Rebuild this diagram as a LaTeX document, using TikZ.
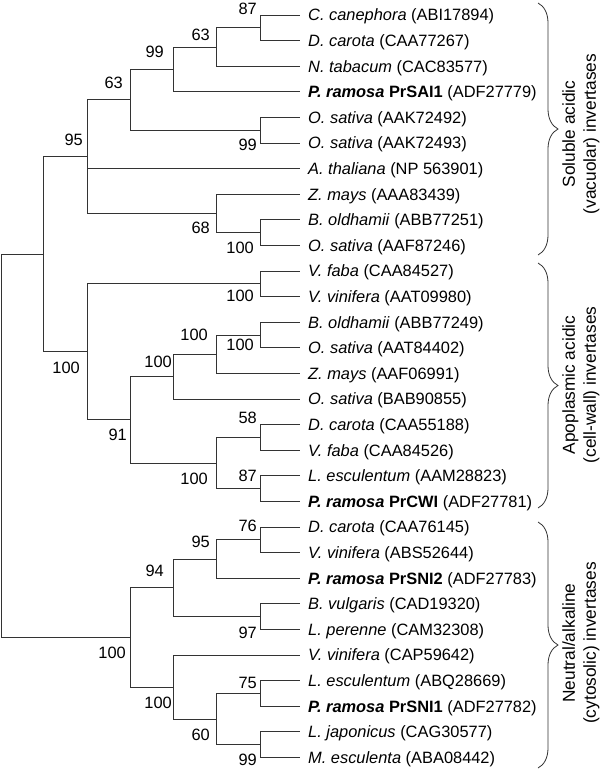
\documentclass[tikz,border=0pt]{standalone}
\usepackage{fontspec}
\setmainfont{Liberation Sans}
\usetikzlibrary{decorations.pathreplacing}
\begin{document}
\begin{tikzpicture}[x=1pt,y=-1pt,
  branch/.style={draw=black!80, line width=0.9pt},
  leaf/.style={anchor=west, xshift=8pt, inner sep=0pt, text height=11.7pt, text depth=0pt, font=\fontsize{16.4}{19}\selectfont},
  boot/.style={anchor=east, inner sep=0pt, text height=11.7pt, text depth=0pt, font=\fontsize{16.4}{19}\selectfont},
  cladebrace/.style={decorate, decoration={brace, amplitude=20pt}, draw=black!80, line width=0.8pt},
  grouplabel/.style={rotate=90, align=center, inner sep=0pt, font=\fontsize{17.3}{21}\selectfont}]
\useasboundingbox (0,0) rectangle (600,771);
% leaf ends
\foreach \i/\y in {1/15,2/40.6,3/66.2,4/91.8,5/117.4,6/143,7/168.6,8/194.2,9/219.8,10/245.4,
  11/271,12/296.6,13/322.2,14/347.8,15/373.4,16/399,17/424.6,18/450.2,19/475.8,20/501.4,
  21/527,22/552.6,23/578.2,24/603.8,25/629.4,26/655,27/680.6,28/706.2,29/731.8,30/757.4}
  {\coordinate (e\i) at (300,\y);}
% leaf labels
\node[leaf] (t1) at (e1) {\textit{C. canephora} (ABI17894)};
\node[leaf] (t2) at (e2) {\textit{D. carota} (CAA77267)};
\node[leaf] (t3) at (e3) {\textit{N. tabacum} (CAC83577)};
\node[leaf] (t4) at (e4) {\textbf{\textit{P. ramosa} PrSAI1} (ADF27779)};
\node[leaf] (t5) at (e5) {\textit{O. sativa} (AAK72492)};
\node[leaf] (t6) at (e6) {\textit{O. sativa} (AAK72493)};
\node[leaf] (t7) at (e7) {\textit{A. thaliana} (NP 563901)};
\node[leaf] (t8) at (e8) {\textit{Z. mays} (AAA83439)};
\node[leaf] (t9) at (e9) {\textit{B. oldhamii} (ABB77251)};
\node[leaf] (t10) at (e10) {\textit{O. sativa} (AAF87246)};
\node[leaf] (t11) at (e11) {\textit{V. faba} (CAA84527)};
\node[leaf] (t12) at (e12) {\textit{V. vinifera} (AAT09980)};
\node[leaf] (t13) at (e13) {\textit{B. oldhamii} (ABB77249)};
\node[leaf] (t14) at (e14) {\textit{O. sativa} (AAT84402)};
\node[leaf] (t15) at (e15) {\textit{Z. mays} (AAF06991)};
\node[leaf] (t16) at (e16) {\textit{O. sativa} (BAB90855)};
\node[leaf] (t17) at (e17) {\textit{D. carota} (CAA55188)};
\node[leaf] (t18) at (e18) {\textit{V. faba} (CAA84526)};
\node[leaf] (t19) at (e19) {\textit{L. esculentum} (AAM28823)};
\node[leaf] (t20) at (e20) {\textbf{\textit{P. ramosa} PrCWI} (ADF27781)};
\node[leaf] (t21) at (e21) {\textit{D. carota} (CAA76145)};
\node[leaf] (t22) at (e22) {\textit{V. vinifera} (ABS52644)};
\node[leaf] (t23) at (e23) {\textbf{\textit{P. ramosa} PrSNI2} (ADF27783)};
\node[leaf] (t24) at (e24) {\textit{B. vulgaris} (CAD19320)};
\node[leaf] (t25) at (e25) {\textit{L. perenne} (CAM32308)};
\node[leaf] (t26) at (e26) {\textit{V. vinifera} (CAP59642)};
\node[leaf] (t27) at (e27) {\textit{L. esculentum} (ABQ28669)};
\node[leaf] (t28) at (e28) {\textbf{\textit{P. ramosa} PrSNI1} (ADF27782)};
\node[leaf] (t29) at (e29) {\textit{L. japonicus} (CAG30577)};
\node[leaf] (t30) at (e30) {\textit{M. esculenta} (ABA08442)};
% internal nodes
\coordinate (a87) at (260,27.8);
\coordinate (a63b) at (216.7,47);
\coordinate (a99) at (173.3,69.4);
\coordinate (a99b) at (260,130.2);
\coordinate (a63) at (130.3,99.8);
\coordinate (a100a) at (260,232.6);
\coordinate (a68) at (216.7,213.4);
\coordinate (a95) at (87,156.6);
\coordinate (b100b) at (260,283.8);
\coordinate (b100c) at (260,335);
\coordinate (b100d) at (216.7,354.2);
\coordinate (b100e) at (173.3,376.6);
\coordinate (b58) at (260,437.4);
\coordinate (b87) at (260,488.6);
\coordinate (b100f) at (216.7,463);
\coordinate (b91) at (130.3,419.8);
\coordinate (b100g) at (87,351.8);
\coordinate (acid) at (43.3,254.2);
\coordinate (c76) at (260,539.8);
\coordinate (c95) at (216.7,559);
\coordinate (c97) at (260,616.6);
\coordinate (c94) at (173.3,587.8);
\coordinate (c75) at (260,693.4);
\coordinate (c99) at (260,744.6);
\coordinate (c60) at (216.7,719);
\coordinate (c100h) at (173.3,687);
\coordinate (c100i) at (130.3,637.4);
\coordinate (root) at (1,445.8);
% branches
\foreach \p/\c in {a87/e1,a87/e2,a63b/a87,a63b/e3,a99/a63b,a99/e4,a99b/e5,a99b/e6,
  a63/a99,a63/a99b,a100a/e9,a100a/e10,a68/e8,a68/a100a,a95/a63,a95/e7,a95/a68,
  b100b/e11,b100b/e12,b100c/e13,b100c/e14,b100d/b100c,b100d/e15,b100e/b100d,b100e/e16,
  b58/e17,b58/e18,b87/e19,b87/e20,b100f/b58,b100f/b87,b91/b100e,b91/b100f,
  b100g/b100b,b100g/b91,acid/a95,acid/b100g,
  c76/e21,c76/e22,c95/c76,c95/e23,c97/e24,c97/e25,c94/c95,c94/c97,
  c75/e27,c75/e28,c99/e29,c99/e30,c60/c75,c60/c99,c100h/e26,c100h/c60,
  c100i/c94,c100i/c100h,root/acid,root/c100i}
  {\draw[branch] (\p) |- (\c);}
% bootstrap values
\node[boot] (s1) at (257,9) {87};
\node[boot] (s2) at (210,35) {63};
\node[boot] (s3) at (164,52) {99};
\node[boot] (s4) at (123,83) {63};
\node[boot] (s5) at (83,139.5) {95};
\node[boot] (s6) at (257,145) {99};
\node[boot] (s7) at (210,228) {68};
\node[boot] (s8) at (254,247.5) {100};
\node[boot] (s9) at (254,296) {100};
\node[boot] (s10) at (208,335) {100};
\node[boot] (s11) at (254,345) {100};
\node[boot] (s12) at (172,361.5) {100};
\node[boot] (s13) at (80,367.5) {100};
\node[boot] (s14) at (127,435) {91};
\node[boot] (s15) at (257,417.5) {58};
\node[boot] (s16) at (208,478.5) {100};
\node[boot] (s17) at (257,476) {87};
\node[boot] (s18) at (257,525.5) {76};
\node[boot] (s19) at (210,542) {95};
\node[boot] (s20) at (164,571) {94};
\node[boot] (s21) at (257,632.5) {97};
\node[boot] (s22) at (126,653) {100};
\node[boot] (s23) at (257,682.5) {75};
\node[boot] (s24) at (172,703) {100};
\node[boot] (s25) at (210,735) {60};
\node[boot] (s26) at (257,760) {99};
% clade braces
\coordinate (g1a) at (538,3);   \coordinate (g1b) at (538,255);
\coordinate (g2a) at (538,263); \coordinate (g2b) at (538,508);
\coordinate (g3a) at (538,522); \coordinate (g3b) at (538,768);
\draw[cladebrace] (g1a) -- (g1b);
\draw[cladebrace] (g2a) -- (g2b);
\draw[cladebrace] (g3a) -- (g3b);
\node[grouplabel] (L1) at (581,134) {Soluble acidic\\(vacuolar) invertases};
\node[grouplabel] (L2) at (581,385) {Apoplasmic acidic\\(cell-wall) invertases};
\node[grouplabel] (L3) at (581,643) {Neutral/alkaline\\(cytosolic) invertases};
\end{tikzpicture}
\end{document}
